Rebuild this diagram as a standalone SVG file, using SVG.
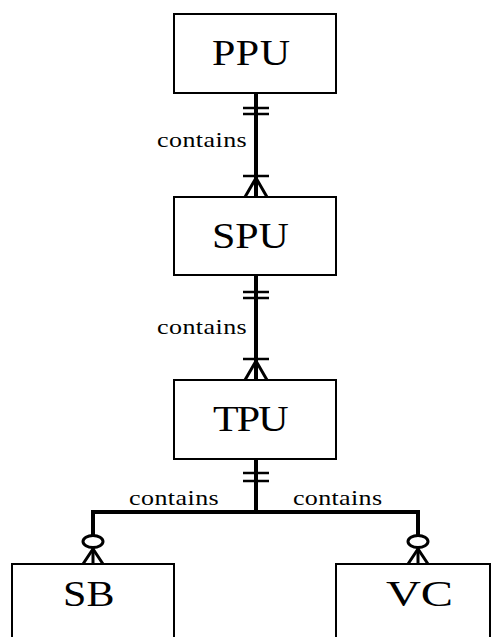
<svg xmlns="http://www.w3.org/2000/svg" width="492" height="637" viewBox="0 0 492 637">
<style>
.box{fill:#fff;stroke:#000;stroke-width:2}
.lbl{font-family:"Liberation Serif","Times New Roman",serif;font-size:35px;fill:#000}
.rel{font-family:"Liberation Serif","Times New Roman",serif;font-size:20px;fill:#000}
.ln{stroke:#000;stroke-width:4;fill:none}
.bar{stroke:#000;stroke-width:2.5;fill:none}
.ft{stroke:#000;stroke-width:3;fill:none}
</style>
<rect width="492" height="637" fill="#fff"/>
<g id="connectors">
  <line class="ln" x1="256" y1="93" x2="256" y2="197"/>
  <line class="bar" x1="243" y1="108" x2="269" y2="108"/>
  <line class="bar" x1="243" y1="114" x2="269" y2="114"/>
  <line class="bar" x1="243" y1="176" x2="269" y2="176"/>
  <path class="ft" d="M245,197 L256,178 L267,197"/>
  <text class="rel" transform="translate(157,147) scale(1.3,1)" textLength="69" lengthAdjust="spacing">contains</text>

  <line class="ln" x1="256" y1="275" x2="256" y2="380"/>
  <line class="bar" x1="243" y1="292" x2="269" y2="292"/>
  <line class="bar" x1="243" y1="298" x2="269" y2="298"/>
  <line class="bar" x1="243" y1="359" x2="269" y2="359"/>
  <path class="ft" d="M245,380 L256,361 L267,380"/>
  <text class="rel" transform="translate(157,334) scale(1.3,1)" textLength="69" lengthAdjust="spacing">contains</text>

  <line class="ln" x1="256" y1="459" x2="256" y2="512"/>
  <line class="bar" x1="243" y1="473" x2="269" y2="473"/>
  <line class="bar" x1="243" y1="481" x2="269" y2="481"/>
  <path class="ln" d="M93,536 L93,512 L418,512 L418,536"/>
  <ellipse class="ft" cx="93" cy="541.5" rx="10" ry="6"/>
  <ellipse class="ft" cx="418" cy="541.5" rx="10" ry="6"/>
  <line class="ft" x1="93" y1="548" x2="93" y2="564"/>
  <path class="ft" d="M83,564 L93,549 L103,564"/>
  <line class="ft" x1="418" y1="548" x2="418" y2="564"/>
  <path class="ft" d="M408,564 L418,549 L428,564"/>
  <text class="rel" transform="translate(129,505) scale(1.3,1)" textLength="69" lengthAdjust="spacing">contains</text>
  <text class="rel" transform="translate(293,505) scale(1.3,1)" textLength="68.5" lengthAdjust="spacing">contains</text>
</g>
<g id="PPU">
  <rect class="box" x="174" y="14" width="162" height="79"/>
  <text class="lbl" transform="translate(212,65) scale(1.2,1)" textLength="65" lengthAdjust="spacing">PPU</text>
</g>
<g id="SPU">
  <rect class="box" x="174" y="197" width="162" height="78"/>
  <text class="lbl" transform="translate(212,248) scale(1.2,1)" textLength="64" lengthAdjust="spacing">SPU</text>
</g>
<g id="TPU">
  <rect class="box" x="174" y="380" width="162" height="79"/>
  <text class="lbl" transform="translate(213,431) scale(1.2,1)" textLength="63" lengthAdjust="spacing">TPU</text>
</g>
<g id="SB">
  <rect class="box" x="12" y="564" width="162" height="79"/>
  <text class="lbl" transform="translate(63,606) scale(1.2,1)" textLength="43" lengthAdjust="spacing">SB</text>
</g>
<g id="VC">
  <rect class="box" x="336" y="564" width="154" height="79"/>
  <text class="lbl" transform="translate(386,606) scale(1.38,1)" textLength="48.5" lengthAdjust="spacing">VC</text>
</g>
</svg>
